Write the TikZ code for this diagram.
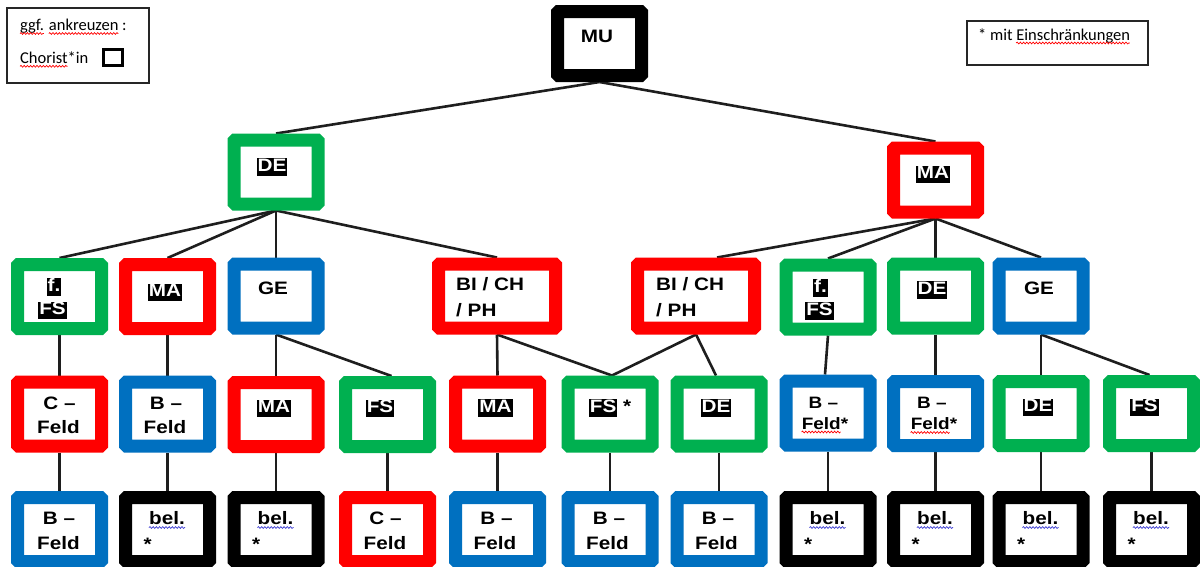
\documentclass[tikz,border=0pt]{standalone}
\usepackage{fontspec}
\usetikzlibrary{calc,backgrounds,decorations.pathmorphing}
\newfontfamily\labfont[FakeStretch=1.15]{Liberation Sans}
\newfontfamily\legfont{Carlito}
\definecolor{cgreen}{RGB}{0,176,80}
\definecolor{cred}{RGB}{255,0,0}
\definecolor{cblue}{RGB}{0,112,192}
\definecolor{cwave}{RGB}{60,60,210}
\definecolor{cline}{RGB}{30,30,30}
\newcommand\hlt[1]{{\setlength{\fboxsep}{0pt}\colorbox{black}{\rule[-4.5pt]{0pt}{17.5pt}\kern1pt\textcolor{white}{#1}\kern1pt}}}
\newcommand\legsize{\legfont\fontsize{16.5}{18}\selectfont}
\newcommand\labsmall{\labfont\bfseries\fontsize{16.5}{18}\selectfont}
\newlength\wA \newlength\wB \newlength\wC \newlength\wD \newlength\wE \newlength\wF \newlength\wG
\tikzset{
  box/.style={draw=#1, line width=13pt, minimum width=84pt, minimum height=64pt,
    inner sep=0pt, outer sep=6.5pt, rounded corners=1pt},
  wide/.style={minimum width=117pt},
  conn/.style={draw=cline, line width=2.6pt},
  lab/.style={font=\labfont\bfseries\fontsize{18}{20}\selectfont, anchor=base, inner sep=0pt},
  labw/.style={lab, anchor=base west},
  labs/.style={lab, font=\labsmall},
  leg/.style={font=\legsize, anchor=base west, inner sep=0pt},
  legframe/.style={draw=black!85, line width=1.2pt, inner sep=0pt},
  wavy/.style={draw=#1, line width=0.7pt, decorate,
    decoration={snake, amplitude=0.9pt, segment length=3.2pt}}
}
\begin{document}
\settowidth\wA{\legsize ggf.}%
\settowidth\wB{\legsize ggf. }%
\settowidth\wC{\legsize ggf. ankreuzen}%
\settowidth\wD{\legsize Chorist}%
\settowidth\wE{\legsize * mit }%
\settowidth\wF{\legsize * mit Einschränkungen}%
\settowidth\wG{\labsmall Feld}%
\begin{tikzpicture}[x=1pt,y=-1pt]
\useasboundingbox (0,0) rectangle (1200,566);
% legends
\node[legframe, minimum width=142pt, minimum height=75pt] (legl) at (78,45.5) {};
\node[leg] (legl1) at (20,30.5) {ggf. ankreuzen :};
\node[leg] (legl2) at (20,63.3) {Chorist*in};
\node[draw=black, line width=3pt, minimum width=19pt, minimum height=16pt, inner sep=0pt] (chk) at (113,57.5) {};
\node[legframe, minimum width=181pt, minimum height=44pt] (legr) at (1057.5,43) {};
\node[leg] (legr1) at (978,40) {* mit Einschränkungen};
\draw[wavy=red] ([yshift=-3pt]legl1.base west) -- ([yshift=-3pt,xshift=\wA]legl1.base west);
\draw[wavy=red] ([yshift=-3pt,xshift=\wB]legl1.base west) -- ([yshift=-3pt,xshift=\wC]legl1.base west);
\draw[wavy=red] ([yshift=-3pt]legl2.base west) -- ([yshift=-3pt,xshift=\wD]legl2.base west);
\draw[wavy=red] ([yshift=-3pt,xshift=\wE]legr1.base west) -- ([yshift=-3pt,xshift=\wF]legr1.base west);
% boxes
\node[box=black] (mu) at (599.5,43.5) {};
\node[box=cgreen] (de1) at (276,172) {};
\node[box=cred] (ma1) at (935.5,180) {};
% level 2
\node[box=cgreen] (fa) at (59.5,296.5) {};
\node[box=cred] (mb) at (167.5,296.5) {};
\node[box=cblue] (gc) at (276,296) {};
\node[box=cred, wide] (bd) at (497,296) {};
\node[box=cred, wide] (be) at (696,296) {};
\node[box=cgreen] (ff) at (828,297) {};
\node[box=cgreen] (dg) at (935.5,296) {};
\node[box=cblue] (gh) at (1041,296) {};
% level 3
\node[box=cred] (r1) at (59.5,414) {};
\node[box=cblue] (r2) at (167.5,414) {};
\node[box=cred] (r3) at (276,414.5) {};
\node[box=cgreen] (r4) at (387.5,414.5) {};
\node[box=cred] (r5) at (497.5,414) {};
\node[box=cgreen] (r6) at (610,414) {};
\node[box=cgreen] (r7) at (719,414) {};
\node[box=cblue] (r8) at (828,413) {};
\node[box=cblue] (r9) at (935.5,413.5) {};
\node[box=cgreen] (r10) at (1041,413.5) {};
\node[box=cgreen] (r11) at (1151.5,413.5) {};
% level 4
\node[box=cblue] (s1) at (59.5,529.5) {};
\node[box=black] (s2) at (167.5,529.5) {};
\node[box=black] (s3) at (276,529.5) {};
\node[box=cred] (s4) at (387.5,529.5) {};
\node[box=cblue] (s5) at (497.5,529.5) {};
\node[box=cblue] (s6) at (610,529.5) {};
\node[box=cblue] (s7) at (719,529.5) {};
\node[box=black] (s8) at (828,529.5) {};
\node[box=black] (s9) at (935.5,529.5) {};
\node[box=black] (s10) at (1041,529.5) {};
\node[box=black] (s11) at (1151.5,529.5) {};
% labels
\node[lab] (tmu) at ($(mu)+(-2.5,-1)$) {MU};
\node[lab] (tde1) at ($(de1)+(-4,-1)$) {\hlt{DE}};
\node[lab] (tma1) at ($(ma1)+(-2.5,-1.5)$) {\hlt{MA}};
\node[lab] (tfa1) at ($(fa)+(-5.5,-5)$) {\hlt{f.}};
\node[lab] (tfa2) at ($(fa)+(-7,18)$) {\hlt{FS}};
\node[lab] (tmb) at ($(mb)+(-2.5,0)$) {\hlt{MA}};
\node[lab] (tgc) at ($(gc)+(-3,-2)$) {GE};
\node[labw] (tbd1) at ($(bd)+(-41,-6)$) {BI / CH};
\node[labw] (tbd2) at ($(bd)+(-41,20)$) {/ PH};
\node[labw] (tbe1) at ($(be)+(-40,-6)$) {BI / CH};
\node[labw] (tbe2) at ($(be)+(-40,20)$) {/ PH};
\node[lab] (tff1) at ($(ff)+(-7.5,-5)$) {\hlt{f.}};
\node[lab] (tff2) at ($(ff)+(-8.5,18)$) {\hlt{FS}};
\node[lab] (tdg) at ($(dg)+(-3.5,-2)$) {\hlt{DE}};
\node[lab] (tgh) at ($(gh)+(-2,-2)$) {GE};
\node[lab] (tr1a) at ($(r1)+(0,-4.5)$) {C –};
\node[lab] (tr1b) at ($(r1)+(-1,19.5)$) {Feld};
\node[lab] (tr2a) at ($(r2)+(-1.5,-4.5)$) {B –};
\node[lab] (tr2b) at ($(r2)+(-2.5,19.5)$) {Feld};
\node[lab] (tr3) at ($(r3)+(-2,-2)$) {\hlt{MA}};
\node[lab] (tr4) at ($(r4)+(-7.5,-2)$) {\hlt{FS}};
\node[lab] (tr5) at ($(r5)+(-2,-2)$) {\hlt{MA}};
\node[lab] (tr6) at ($(r6)+(0,-2)$) {\hlt{FS}\ *};
\node[lab] (tr7) at ($(r7)+(-3,-2)$) {\hlt{DE}};
\node[labs] (tr8a) at ($(r8)+(-4.5,-5)$) {B –};
\node[labs] (tr8b) at ($(r8)+(-3,16)$) {Feld*};
\node[labs] (tr9a) at ($(r9)+(-3.5,-5)$) {B –};
\node[labs] (tr9b) at ($(r9)+(-1.5,16)$) {Feld*};
\draw[wavy=red] ([yshift=-3pt]tr8b.base west) -- ([yshift=-3pt,xshift=\wG]tr8b.base west);
\draw[wavy=red] ([yshift=-3pt]tr9b.base west) -- ([yshift=-3pt,xshift=\wG]tr9b.base west);
\node[lab] (tr10) at ($(r10)+(-3,-2)$) {\hlt{DE}};
\node[lab] (tr11) at ($(r11)+(-7,-2)$) {\hlt{FS}};
\node[lab] (ts1a) at ($(s1)+(-0.5,-5)$) {B –};
\node[lab] (ts1b) at ($(s1)+(-1,20)$) {Feld};
\node[lab] (ts4a) at ($(s4)+(-2,-5)$) {C –};
\node[lab] (ts4b) at ($(s4)+(-2.5,20)$) {Feld};
\node[lab] (ts5a) at ($(s5)+(-1,-5)$) {B –};
\node[lab] (ts5b) at ($(s5)+(-2.5,20)$) {Feld};
\node[lab] (ts6a) at ($(s6)+(-1,-5)$) {B –};
\node[lab] (ts6b) at ($(s6)+(-2.5,20)$) {Feld};
\node[lab] (ts7a) at ($(s7)+(-1,-5)$) {B –};
\node[lab] (ts7b) at ($(s7)+(-2.5,20)$) {Feld};
\foreach \s in {s2,s3,s8,s9,s10,s11}{
  \node[lab] (t\s a) at ($(\s)+(-0.5,-5)$) {bel.};
  \draw[wavy=cwave] ([yshift=-3pt]t\s a.base west) -- ([yshift=-3pt]t\s a.base east);
  \node[labw] (t\s b) at ($(\s)+(-24,21)$) {*};
}
% connectors
\begin{scope}[on background layer]
\fill[white] (0,0) rectangle (1200,566);
\draw[conn] (mu.south) -- (de1.north);
\draw[conn] (mu.south) -- (ma1.north);
\foreach \c in {fa,mb,gc,bd} \draw[conn] (de1.south) -- (\c.north);
\draw[conn] (ma1.south) -- ([xshift=21pt]be.north);
\foreach \c in {ff,dg,gh} \draw[conn] (ma1.south) -- (\c.north);
\draw[conn] (fa.south) -- (r1.north);
\draw[conn] (mb.south) -- (r2.north);
\draw[conn] (gc.south) -- (r3.north);
\draw[conn] (gc.south) -- ([xshift=4pt]r4.north);
\draw[conn] (bd.south) -- (r5.north);
\draw[conn] (bd.south) -- ([xshift=2pt]r6.north);
\draw[conn] (be.south) -- ([xshift=2pt]r6.north);
\draw[conn] (be.south) -- ([xshift=-3pt]r7.north);
\draw[conn] (ff.south) -- ([xshift=-3pt]r8.north);
\draw[conn] (dg.south) -- (r9.north);
\draw[conn] (gh.south) -- (r10.north);
\draw[conn] (gh.south) -- ([xshift=-2pt]r11.north);
\foreach \i in {1,...,11} \draw[conn] (r\i.south) -- (s\i.north);
\end{scope}
\end{tikzpicture}
\end{document}
